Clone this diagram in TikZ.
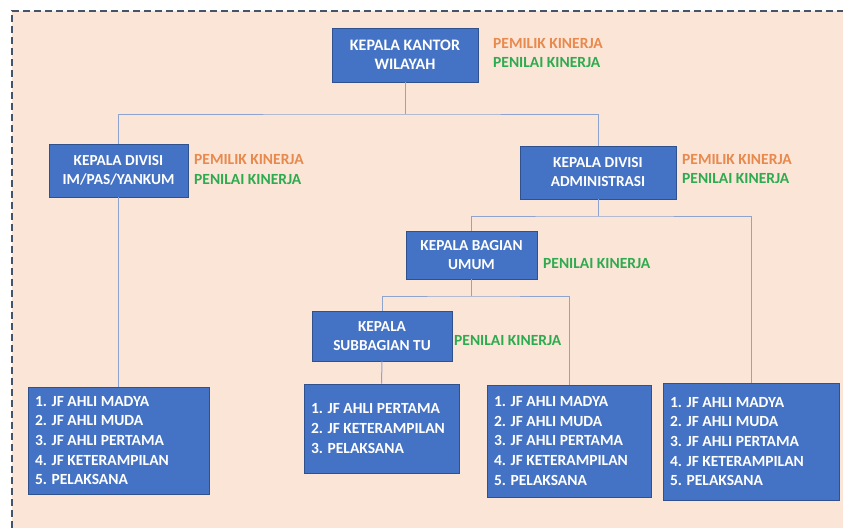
\documentclass[tikz,border=0pt]{standalone}
\usepackage{fontspec}
\setmainfont{Carlito}
\definecolor{peach}{HTML}{FBE5D6}
\definecolor{boxblue}{HTML}{4472C4}
\definecolor{boxedge}{HTML}{2F528F}
\definecolor{linkcol}{HTML}{8FA3CF}
\definecolor{ownercol}{HTML}{E8894D}
\definecolor{ratercol}{HTML}{2EAA50}
\definecolor{framecol}{HTML}{44546A}
\newcommand{\owner}{\textcolor{ownercol}{PEMILIK KINERJA}}
\newcommand{\rater}{\textcolor{ratercol}{PENILAI KINERJA}}
\tikzset{
  unitbox/.style={draw=boxedge, fill=boxblue, text=white, line width=0.8pt,
    inner sep=0pt, align=center, font=\fontsize{15.3}{19}\selectfont\bfseries},
  topbox/.style={unitbox, font=\fontsize{16}{18.5}\selectfont\bfseries},
  listbox/.style={unitbox, align=flush left, inner xsep=7pt, inner ysep=0pt,
    font=\fontsize{15.5}{19.7}\selectfont\bfseries},
  role/.style={anchor=west, inner sep=0pt, align=left,
    font=\fontsize{15.5}{19.5}\selectfont\bfseries},
  link/.style={draw=linkcol, line width=1pt}
}
\begin{document}
\begin{tikzpicture}[x=1pt,y=-1pt]
\useasboundingbox (0,0) rectangle (843,528);
% page background and dashed frame
\fill[white] (0,0) rectangle (843,528);
\fill[peach] (12,11) rectangle (843,528);
\draw[framecol, line width=1.2pt, dash pattern=on 7pt off 4pt] (12,528) -- (12,11) -- (843,11);

% management boxes
\node[topbox, minimum width=146pt, minimum height=54pt] (kanwil) at (405,55) {KEPALA KANTOR\\WILAYAH};
\node[unitbox, minimum width=139pt, minimum height=53pt] (divim) at (118.5,170.5) {KEPALA DIVISI\\IM/PAS/YANKUM};
\node[unitbox, minimum width=156pt, minimum height=53pt] (divadm) at (598,172.5) {KEPALA DIVISI\\ADMINISTRASI};
\node[unitbox, minimum width=131pt, minimum height=48pt] (bagum) at (471.5,255) {KEPALA BAGIAN\\UMUM};
\node[unitbox, minimum width=140pt, minimum height=50pt] (subtu) at (382,336) {KEPALA\\SUBBAGIAN TU};

% role labels
\node[role] (rkanwil) at (493,53) {\owner\\\rater};
\node[role] (rdivim) at (194,169.5) {\owner\\\rater};
\node[role] (rdivadm) at (682,169) {\owner\\\rater};
\node[role] (rbagum) at (543,264) {\rater};
\node[role] (rsubtu) at (454,341) {\rater};

% staff boxes
\node[listbox, text width=167pt, minimum height=107pt] (staffim) at (118.5,440.5)
  {1. JF AHLI MADYA\\2. JF AHLI MUDA\\3. JF AHLI PERTAMA\\4. JF KETERAMPILAN\\5. PELAKSANA};
\node[listbox, text width=141pt, minimum height=89pt] (stafftu) at (381.5,428.5)
  {1. JF AHLI PERTAMA\\2. JF KETERAMPILAN\\3. PELAKSANA};
\node[listbox, text width=150pt, minimum height=112pt] (staffum) at (569,441)
  {1. JF AHLI MADYA\\2. JF AHLI MUDA\\3. JF AHLI PERTAMA\\4. JF KETERAMPILAN\\5. PELAKSANA};
\node[listbox, text width=162pt, minimum height=117pt] (staffadm) at (751,441.5)
  {1. JF AHLI MADYA\\2. JF AHLI MUDA\\3. JF AHLI PERTAMA\\4. JF KETERAMPILAN\\5. PELAKSANA};

% junction points of the connector buses
\coordinate (busA) at (405,114);
\coordinate (busB) at (598,216);
\coordinate (busC) at (471.5,296);

% connectors
\draw[link] (kanwil.south) -- (busA);
\draw[link] (divim.north) |- (busA) -| (divadm.north);
\draw[link] (divim.south) -- (staffim.north);
\draw[link] (divadm.south) -- (busB);
\draw[link] (bagum.north) |- (busB) -| (staffadm.north);
\draw[link] (bagum.south) -- (busC);
\draw[link] (subtu.north) |- (busC) -| (staffum.north);
\draw[link] (subtu.south) -- (stafftu.north);
\end{tikzpicture}
\end{document}
